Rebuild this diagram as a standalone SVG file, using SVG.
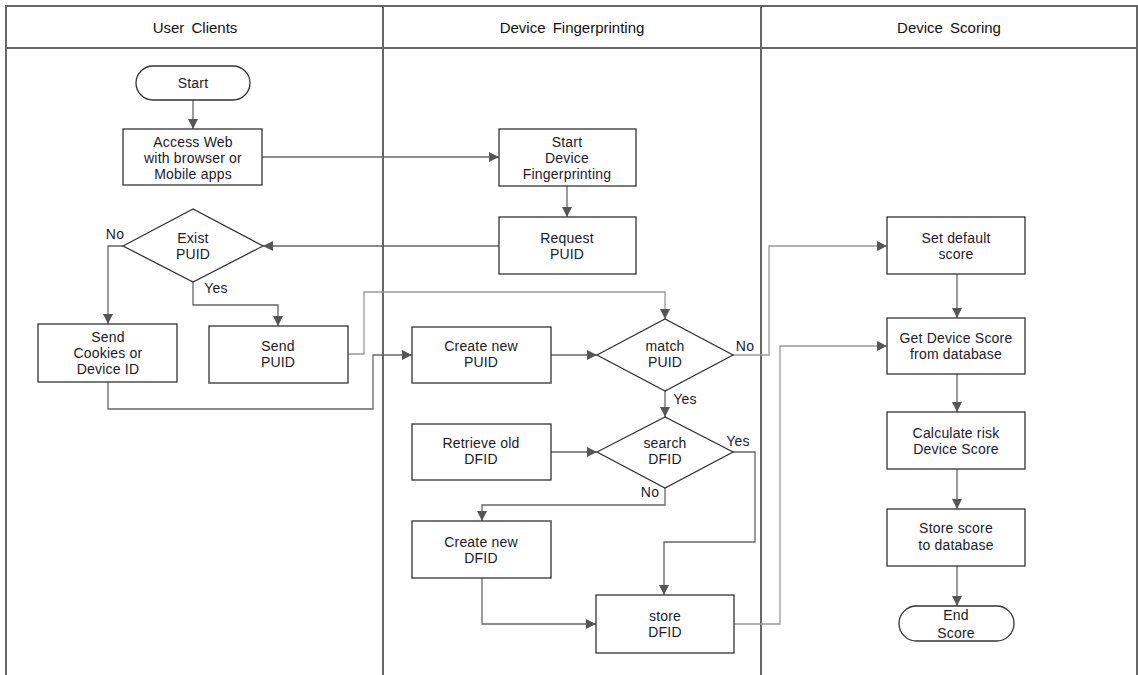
<svg xmlns="http://www.w3.org/2000/svg" width="1138" height="675" viewBox="0 0 1138 675">
<style>
.lane{fill:none;stroke:#666;stroke-width:2}
.box{fill:#fff;stroke:#333;stroke-width:1.3}
.t{font-family:"Liberation Sans",Arial,sans-serif;font-size:14px;fill:#1a1a2a;text-anchor:middle;letter-spacing:0.2px}
.h{font-family:"Liberation Sans",Arial,sans-serif;font-size:15px;fill:#111;text-anchor:middle;word-spacing:3px}
.c{fill:none;stroke:#666;stroke-width:1.3}
.c2{fill:none;stroke:#999;stroke-width:1.3}
</style>
<defs>
<marker id="ar" viewBox="0 0 10 10" refX="10" refY="5" markerWidth="10" markerHeight="10" markerUnits="userSpaceOnUse" orient="auto">
<path d="M0,0 L10,5 L0,10 z" fill="#555"/>
</marker>
</defs>
<rect width="1138" height="675" fill="#fff"/>
<g id="lanes">
<path class="lane" d="M6,680 V6 H1137 V680"/>
<line class="lane" x1="6" y1="48" x2="1137" y2="48"/>
<line class="lane" x1="383" y1="6" x2="383" y2="680"/>
<line class="lane" x1="761" y1="6" x2="761" y2="680"/>
<text class="h" x="195" y="33">User Clients</text>
<text class="h" x="572" y="33">Device Fingerprinting</text>
<text class="h" x="949" y="33">Device Scoring</text>
</g>
<g id="connectors">
<line class="c" x1="193" y1="100" x2="193" y2="129" marker-end="url(#ar)"/>
<line class="c" x1="262" y1="157" x2="499" y2="157" marker-end="url(#ar)"/>
<line class="c" x1="567" y1="186" x2="567" y2="217" marker-end="url(#ar)"/>
<line class="c" x1="499" y1="246" x2="263" y2="246" marker-end="url(#ar)"/>
<path class="c" d="M123,246 H108 V324" marker-end="url(#ar)"/>
<path class="c" d="M193,282 V305 H278 V326" marker-end="url(#ar)"/>
<path class="c2" d="M348,354 H364 V292 H665 V319" marker-end="url(#ar)"/>
<path class="c" d="M108,382 V409 H373 V355 H412" marker-end="url(#ar)"/>
<line class="c" x1="551" y1="355" x2="597" y2="355" marker-end="url(#ar)"/>
<path class="c2" d="M733,355 H769 V246 H887" marker-end="url(#ar)"/>
<line class="c" x1="665" y1="391" x2="665" y2="417" marker-end="url(#ar)"/>
<line class="c" x1="551" y1="452" x2="597" y2="452" marker-end="url(#ar)"/>
<path class="c" d="M733,452 H755 V542 H664 V595" marker-end="url(#ar)"/>
<path class="c" d="M665,488 V505 H482 V521" marker-end="url(#ar)"/>
<path class="c" d="M482,578 V624 H596" marker-end="url(#ar)"/>
<path class="c2" d="M734,624 H780 V346 H887" marker-end="url(#ar)"/>
<line class="c" x1="957" y1="274" x2="957" y2="318" marker-end="url(#ar)"/>
<line class="c" x1="957" y1="374" x2="957" y2="412" marker-end="url(#ar)"/>
<line class="c" x1="957" y1="469" x2="957" y2="509" marker-end="url(#ar)"/>
<line class="c" x1="957" y1="566" x2="957" y2="606" marker-end="url(#ar)"/>
<text class="t" x="115" y="239">No</text>
<text class="t" x="216" y="293">Yes</text>
<text class="t" x="745" y="351">No</text>
<text class="t" x="685" y="404">Yes</text>
<text class="t" x="738" y="446">Yes</text>
<text class="t" x="650" y="497">No</text>
</g>
<g id="start"><rect class="box" x="136" y="66" width="114" height="34" rx="17"/><text class="t" x="193" y="88">Start</text></g>
<g id="access"><rect class="box" x="123" y="129" width="139" height="56"/><text class="t" x="193" y="147">Access Web</text><text class="t" x="193" y="163">with browser or</text><text class="t" x="193" y="179">Mobile apps</text></g>
<g id="startdf"><rect class="box" x="499" y="129" width="137" height="57"/><text class="t" x="567" y="147">Start</text><text class="t" x="567" y="163">Device</text><text class="t" x="567" y="179">Fingerprinting</text></g>
<g id="request"><rect class="box" x="499" y="217" width="137" height="57"/><text class="t" x="567" y="243">Request</text><text class="t" x="567" y="259">PUID</text></g>
<g id="exist"><polygon class="box" points="123,246 193,209 263,246 193,282"/><text class="t" x="193" y="243">Exist</text><text class="t" x="193" y="259">PUID</text></g>
<g id="cookies"><rect class="box" x="38" y="324" width="139" height="58"/><text class="t" x="108" y="342">Send</text><text class="t" x="108" y="358">Cookies or</text><text class="t" x="108" y="374">Device ID</text></g>
<g id="sendpuid"><rect class="box" x="209" y="326" width="139" height="57"/><text class="t" x="278" y="351">Send</text><text class="t" x="278" y="367">PUID</text></g>
<g id="createpuid"><rect class="box" x="412" y="327" width="139" height="56"/><text class="t" x="481" y="351">Create new</text><text class="t" x="481" y="367">PUID</text></g>
<g id="match"><polygon class="box" points="597,355 665,319 733,355 665,391"/><text class="t" x="665" y="351">match</text><text class="t" x="665" y="367">PUID</text></g>
<g id="retrieve"><rect class="box" x="412" y="424" width="139" height="56"/><text class="t" x="481" y="448">Retrieve old</text><text class="t" x="481" y="464">DFID</text></g>
<g id="search"><polygon class="box" points="597,452 665,417 733,452 665,488"/><text class="t" x="665" y="448">search</text><text class="t" x="665" y="464">DFID</text></g>
<g id="createdfid"><rect class="box" x="412" y="521" width="139" height="57"/><text class="t" x="481" y="547">Create new</text><text class="t" x="481" y="563">DFID</text></g>
<g id="store"><rect class="box" x="596" y="595" width="138" height="58"/><text class="t" x="665" y="621">store</text><text class="t" x="665" y="637">DFID</text></g>
<g id="setdefault"><rect class="box" x="887" y="217" width="138" height="57"/><text class="t" x="956" y="243">Set default</text><text class="t" x="956" y="259">score</text></g>
<g id="getscore"><rect class="box" x="887" y="318" width="138" height="56"/><text class="t" x="956" y="343">Get Device Score</text><text class="t" x="956" y="359">from database</text></g>
<g id="calc"><rect class="box" x="887" y="412" width="138" height="57"/><text class="t" x="956" y="438">Calculate risk</text><text class="t" x="956" y="454">Device Score</text></g>
<g id="storescore"><rect class="box" x="887" y="509" width="138" height="57"/><text class="t" x="956" y="533">Store score</text><text class="t" x="956" y="550">to database</text></g>
<g id="end"><rect class="box" x="899" y="606" width="115" height="35" rx="17.5"/><text class="t" x="956" y="620">End</text><text class="t" x="956" y="638">Score</text></g>
</svg>
